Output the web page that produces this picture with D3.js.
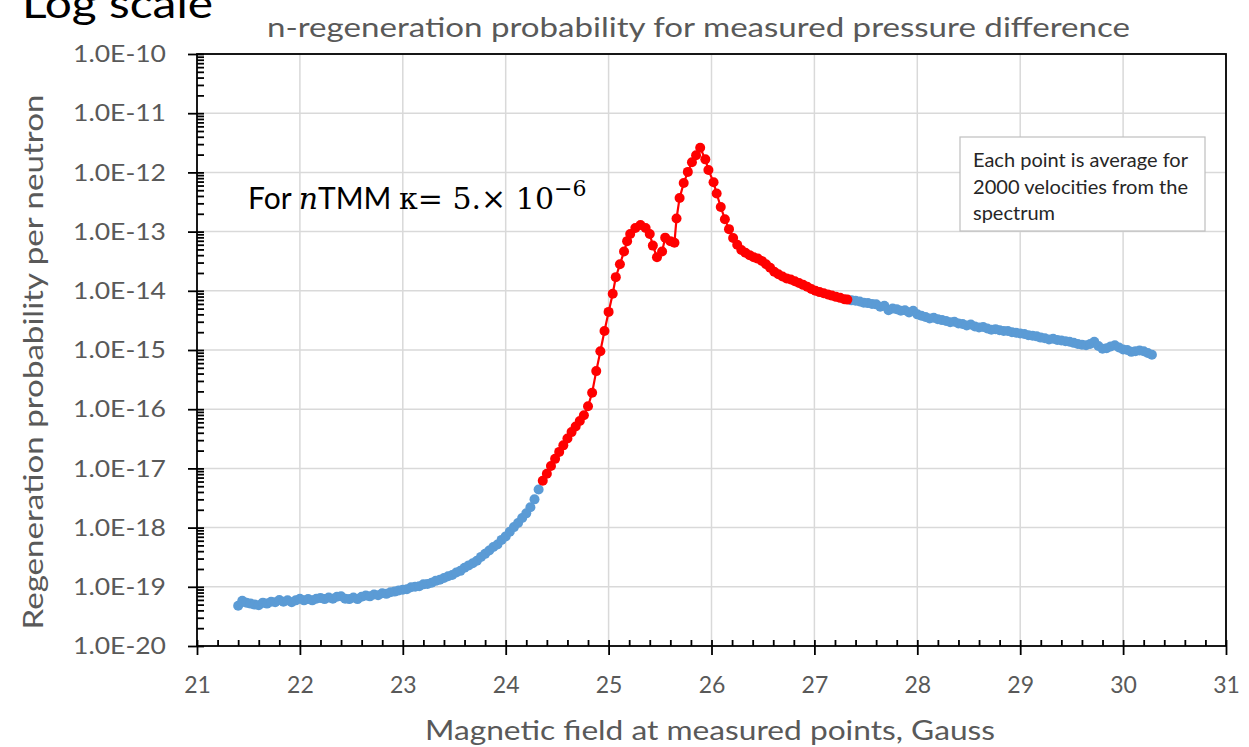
<!DOCTYPE html>
<html>
<head>
<meta charset="utf-8">
<script src="https://cdn.jsdelivr.net/npm/d3@7"></script>
<style>
  body { margin: 0; background: #fff; }
  svg { display: block; }
</style>
</head>
<body>
<svg id="chart"></svg>
<script>
// low-field points (blue, markers only)
const lowX = [21.40,21.44,21.48,21.52,21.56,21.60,21.64,21.68,21.72,21.76,21.80,21.84,21.88,21.92,21.96,
  22.00,22.04,22.08,22.12,22.16,22.20,22.24,22.28,22.32,22.36,22.40,22.44,22.48,22.52,22.56,22.60,22.64,22.68,
  22.72,22.76,22.80,22.84,22.88,22.92,22.96,23.00,23.04,23.08,23.12,23.16,23.20,23.24,23.28,23.32,23.36,23.40,
  23.44,23.48,23.52,23.56,23.60,23.64,23.68,23.72,23.76,23.80,23.84,23.88,23.92,23.96,24.00,24.04,24.08,24.12,
  24.16,24.20,24.24,24.28,24.32];
const lowY = [4.8e-20,5.8e-20,5.4e-20,5.2e-20,5.0e-20,4.9e-20,5.4e-20,5.2e-20,5.6e-20,5.5e-20,6.0e-20,5.6e-20,5.9e-20,5.5e-20,5.9e-20,
  6.3e-20,5.9e-20,6.2e-20,5.9e-20,6.3e-20,6.5e-20,6.2e-20,6.6e-20,6.3e-20,6.8e-20,6.9e-20,6.3e-20,6.2e-20,6.6e-20,6.2e-20,6.8e-20,7.1e-20,6.9e-20,
  7.4e-20,7.2e-20,7.8e-20,7.6e-20,8.1e-20,8.3e-20,8.7e-20,8.9e-20,9.1e-20,9.8e-20,1.0e-19,1.02e-19,1.1e-19,1.12e-19,1.17e-19,1.26e-19,1.32e-19,1.41e-19,
  1.51e-19,1.58e-19,1.74e-19,1.86e-19,2.1e-19,2.3e-19,2.5e-19,2.75e-19,3.2e-19,3.6e-19,4.1e-19,4.7e-19,5.2e-19,6.2e-19,7.1e-19,8.5e-19,1.02e-18,1.2e-18,
  1.45e-18,1.74e-18,2.2e-18,3.0e-18,4.4e-18];

// resonance region (red, markers + line)
const redX = [24.36,24.40,24.44,24.48,24.52,24.56,24.60,24.64,24.68,24.72,24.76,24.80,
  24.84,24.88,24.92,24.96,25.00,25.04,
  25.07,25.11,25.15,25.18,25.21,25.26,25.31,25.36,25.40,25.43,25.47,25.52,25.55,25.60,25.64,25.66,25.69,25.73,25.77,25.81,25.85,25.89,25.94,25.97,
  26.02,26.05,26.09,26.13,26.17,26.21,26.25,26.29,26.33,26.37,26.41,26.45,26.49,26.53,26.57,26.61,26.65,26.69,26.73,26.77,26.81,26.85,26.89,26.93,26.97,
  27.01,27.05,27.09,27.13,27.17,27.21,27.25,27.29,27.32];
const redY = [6.2e-18,8.1e-18,1.1e-17,1.45e-17,1.9e-17,2.45e-17,3.2e-17,4.1e-17,5.1e-17,6.3e-17,7.9e-17,1.12e-16,
  1.9e-16,4.4e-16,9.5e-16,2.1e-15,4.4e-15,8.9e-15,
  1.7e-14,2.8e-14,4.6e-14,6.9e-14,9.1e-14,1.15e-13,1.29e-13,1.15e-13,9.1e-14,5.8e-14,3.7e-14,4.6e-14,7.9e-14,6.9e-14,6.5e-14,1.66e-13,3.7e-13,6.6e-13,1.02e-12,1.48e-12,1.95e-12,2.6e-12,1.66e-12,1.1e-12,
  6.8e-13,4.4e-13,2.6e-13,1.62e-13,1.1e-13,7.8e-14,6.0e-14,4.9e-14,4.4e-14,4.0e-14,3.7e-14,3.5e-14,3.2e-14,2.8e-14,2.45e-14,2.1e-14,1.9e-14,1.74e-14,1.62e-14,1.55e-14,1.45e-14,1.35e-14,1.26e-14,1.17e-14,1.07e-14,
  1.0e-14,9.5e-15,9.1e-15,8.7e-15,8.3e-15,7.9e-15,7.6e-15,7.2e-15,7.1e-15];

// high-field points (blue, markers only)
const highX = [27.36,27.40,27.44,27.48,27.52,27.56,27.60,27.64,27.68,27.72,
  27.76,27.80,27.84,27.88,27.92,27.96,28.00,28.04,28.08,28.12,
  28.16,28.20,28.24,28.28,28.32,28.36,28.40,28.44,28.48,28.52,
  28.56,28.60,28.64,28.68,28.72,28.76,28.80,28.84,28.88,28.92,
  28.96,29.00,29.04,29.08,29.12,29.16,29.20,29.24,29.28,29.32,
  29.36,29.40,29.44,29.48,29.52,29.56,29.60,29.64,29.68,29.72,
  29.76,29.80,29.84,29.88,29.92,29.96,30.00,30.04,30.08,30.12,
  30.16,30.20,30.24,30.28];
const highY = [6.9e-15,6.8e-15,6.6e-15,6.3e-15,6.2e-15,6.0e-15,5.9e-15,5.4e-15,5.6e-15,4.7e-15,
  5.0e-15,4.9e-15,4.6e-15,4.7e-15,4.3e-15,4.6e-15,4.0e-15,3.8e-15,3.6e-15,3.4e-15,
  3.5e-15,3.3e-15,3.2e-15,3.1e-15,2.95e-15,3.0e-15,2.8e-15,2.75e-15,2.6e-15,2.7e-15,
  2.5e-15,2.4e-15,2.45e-15,2.3e-15,2.2e-15,2.25e-15,2.15e-15,2.1e-15,2.1e-15,2.0e-15,
  1.95e-15,1.9e-15,1.86e-15,1.78e-15,1.74e-15,1.7e-15,1.62e-15,1.58e-15,1.51e-15,1.55e-15,
  1.48e-15,1.45e-15,1.41e-15,1.38e-15,1.32e-15,1.26e-15,1.23e-15,1.2e-15,1.26e-15,1.38e-15,
  1.17e-15,1.05e-15,1.07e-15,1.15e-15,1.2e-15,1.1e-15,1.02e-15,1.0e-15,9.3e-16,9.5e-16,
  9.8e-16,9.5e-16,8.9e-16,8.3e-16];

// axis ticks
const xTickValues = [21, 22, 23, 24, 25, 26, 27, 28, 29, 30, 31];
const yTickValues = [1e-10, 1e-11, 1e-12, 1e-13, 1e-14, 1e-15, 1e-16, 1e-17, 1e-18, 1e-19, 1e-20];
const yTickLabels = ["1.0E-10", "1.0E-11", "1.0E-12", "1.0E-13", "1.0E-14", "1.0E-15",
  "1.0E-16", "1.0E-17", "1.0E-18", "1.0E-19", "1.0E-20"];

const boxLines = ["Each point is average for", "2000 velocities from the", "spectrum"];

var w = 1249;
var h = 747;
let margin = ({ top: 54, right: 23, bottom: 101, left: 197 });
const font = "Lato, 'Open Sans', sans-serif";
const serif = "'DejaVu Serif', serif";

var svg = d3.select("#chart")
    .attr("width", w)
    .attr("height", h)
    .style("font-family", font);

var xScale = d3.scaleLinear()
    .domain([21, 31])
    .range([margin.left, w - margin.right]);

var yScale = d3.scaleLog()
    .domain([1e-20, 1e-10])
    .range([h - margin.bottom, margin.top]);

const pts = (xs, ys) => d3.zip(xs, ys).map(([x, y]) => ({ x, y }));
const lowPts = pts(lowX, lowY);
const redPts = pts(redX, redY);
const highPts = pts(highX, highY);

const fitText = (sel, len) => sel.attr("textLength", len).attr("lengthAdjust", "spacingAndGlyphs");

// gridlines
const grid = svg.append("g").attr("stroke", "#d9d9d9").attr("stroke-width", 1.5);
grid.selectAll(".gx").data(xTickValues.slice(1)).join("line")
    .attr("x1", d => xScale(d)).attr("x2", d => xScale(d))
    .attr("y1", margin.top).attr("y2", h - margin.bottom);
grid.selectAll(".gy").data(yTickValues.slice(0, -1)).join("line")
    .attr("y1", d => yScale(d)).attr("y2", d => yScale(d))
    .attr("x1", margin.left).attr("x2", w - margin.right);

// frame
svg.append("rect")
    .attr("x", margin.left).attr("y", margin.top)
    .attr("width", w - margin.right - margin.left)
    .attr("height", h - margin.bottom - margin.top)
    .attr("fill", "none").attr("stroke", "#000").attr("stroke-width", 1.8);

// red connecting line
svg.append("path")
    .datum(redPts)
    .attr("fill", "none")
    .attr("stroke", "#ff0000")
    .attr("stroke-width", 2.2)
    .attr("d", d3.line().x(d => xScale(d.x)).y(d => yScale(d.y)));

// markers
const dots = (data, color) => svg.append("g")
    .selectAll("circle")
    .data(data)
    .join("circle")
    .attr("cx", d => xScale(d.x))
    .attr("cy", d => yScale(d.y))
    .attr("r", 5)
    .attr("fill", color);
dots(lowPts, "#5b9bd5");
dots(highPts, "#5b9bd5");
dots(redPts, "#ff0000");

// axes
const minorY = [];
for (let e = -20; e < -10; e++) for (let k = 2; k <= 9; k++) minorY.push(k * Math.pow(10, e));
const minorX = d3.range(21, 31.001, 0.2);

const styleAxis = g => g
    .call(g => g.select(".domain").remove())
    .call(g => g.selectAll("line").attr("stroke", "#000").attr("stroke-width", 1.8));

svg.append("g")
    .attr("transform", `translate(${margin.left},0)`)
    .call(d3.axisLeft(yScale).tickValues(minorY.concat(yTickValues)).tickSize(-7).tickFormat(""))
    .call(styleAxis);

svg.append("g")
    .attr("transform", `translate(${margin.left},0)`)
    .call(d3.axisLeft(yScale).tickValues(yTickValues).tickSize(9).tickPadding(22)
        .tickFormat((d, i) => yTickLabels[i]))
    .call(styleAxis)
    .call(g => g.selectAll("text")
        .attr("fill", "#595959")
        .style("font-family", font)
        .style("font-size", "24px")
        .call(fitText, 93));

svg.append("g")
    .attr("transform", `translate(0,${h - margin.bottom})`)
    .call(d3.axisBottom(xScale).tickValues(minorX).tickSize(-6).tickFormat(""))
    .call(styleAxis);

svg.append("g")
    .attr("transform", `translate(0,${h - margin.bottom})`)
    .call(d3.axisBottom(xScale).tickValues(xTickValues).tickSize(9).tickPadding(22).tickFormat(d3.format("d")))
    .call(styleAxis)
    .call(g => g.selectAll("text")
        .attr("fill", "#595959")
        .style("font-family", font)
        .style("font-size", "23px"));

// texts
svg.append("text")
    .attr("x", 22).attr("y", 18)
    .attr("fill", "#000")
    .style("font-size", "40px")
    .text("Log scale")
    .call(fitText, 191);

svg.append("text")
    .attr("x", 267).attr("y", 37)
    .attr("fill", "#595959")
    .style("font-size", "26px")
    .text("n-regeneration probability for measured pressure difference")
    .call(fitText, 863);

svg.append("text")
    .attr("transform", `translate(43,${362}) rotate(-90)`)
    .attr("text-anchor", "middle")
    .attr("fill", "#595959")
    .style("font-size", "26px")
    .text("Regeneration probability per neutron")
    .call(fitText, 535);

svg.append("text")
    .attr("x", 425).attr("y", 740)
    .attr("fill", "#595959")
    .style("font-size", "27px")
    .text("Magnetic field at measured points, Gauss")
    .call(fitText, 570);

// annotation
const ann = svg.append("text")
    .attr("x", 248).attr("y", 209)
    .attr("fill", "#000")
    .style("font-size", "30px");
ann.append("tspan").text("For ");
ann.append("tspan").style("font-family", serif).style("font-style", "italic").text("n");
ann.append("tspan").text("TMM ");
ann.append("tspan").style("font-family", serif).text("\u03BA= 5.\u00D7 10");
ann.append("tspan").style("font-family", serif).style("font-size", "22px")
    .attr("dy", -13).text("\u22126");

// text box
svg.append("rect")
    .attr("x", 960).attr("y", 137).attr("width", 245).attr("height", 94)
    .attr("fill", "#fff").attr("stroke", "#bfbfbf").attr("stroke-width", 1.2);
const boxWidths = [215, 215, 82];
svg.append("g").selectAll("text")
    .data(boxLines)
    .join("text")
    .attr("x", 973)
    .attr("y", (d, i) => 167 + i * 26.5)
    .attr("fill", "#262626")
    .style("font-size", "19px")
    .text(d => d)
    .each(function (d, i) { d3.select(this).call(fitText, boxWidths[i]); });
</script>
</body>
</html>
